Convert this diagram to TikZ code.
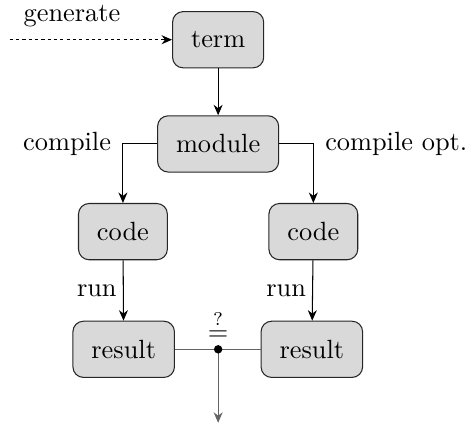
\documentclass[tikz,border=0pt]{standalone}
\usepackage{amsmath, amssymb}
\usepackage{tikz}
\usetikzlibrary{arrows.meta, positioning, calc}
\definecolor{boxc}{RGB}{217,217,217}
\definecolor{joinc}{RGB}{100,100,100}

\tikzset{
  stagebox/.style={draw=black!85, fill=boxc, rounded corners=4pt, minimum height=0.75cm, inner xsep=7pt},
  flow/.style={-{Stealth[length=1.4mm, width=1.2mm]}},
}

\begin{document}
\begin{tikzpicture}
			\useasboundingbox (0,0) rectangle (6.27,-5.67);
			% stages
			\node[stagebox] (term) at (2.91,-0.53) {term};
			\node[stagebox] (module) at (2.91,-1.92) {module};
			\node[stagebox] (codeL) at (1.64,-3.09) {code};
			\node[stagebox] (codeR) at (4.18,-3.09) {code};
			\node[stagebox] (resL) at (1.65,-4.66) {result};
			\node[stagebox] (resR) at (4.16,-4.66) {result};
			% input
			\coordinate (gen) at (0.13,-0.53);
			\draw[flow, dash pattern=on 1.2pt off 1.2pt] (gen) -- (term.west);
			\node at (0.96,-0.22) {generate};
			% compile branches
			\draw[flow] (term) -- (module);
			\coordinate (cL) at (codeL.north |- module.west);
			\coordinate (cR) at (codeR.north |- module.east);
			\draw[flow] (module.west) -- (cL) -- (codeL.north);
			\draw[flow] (module.east) -- (cR) -- (codeR.north);
			\node[left=1pt of cL] {compile};
			\node[right=1pt of cR] {compile opt.};
			% run
			\draw[flow] (codeL) -- (resL) node[midway, left=-1pt] {run};
			\draw[flow] (codeR) -- (resR) node[midway, left=-1pt] {run};
			% comparison
			\coordinate (join) at (2.91,-4.66);
			\coordinate (out) at (2.91,-5.64);
			\draw[joinc] (resL.east) -- (join) -- (resR.west);
			\draw[joinc, flow] (join) -- (out);
			\fill (join) circle (1.6pt);
			\node[above=0pt of join] {$\overset{?}{=}$};
		\end{tikzpicture}
\end{document}
